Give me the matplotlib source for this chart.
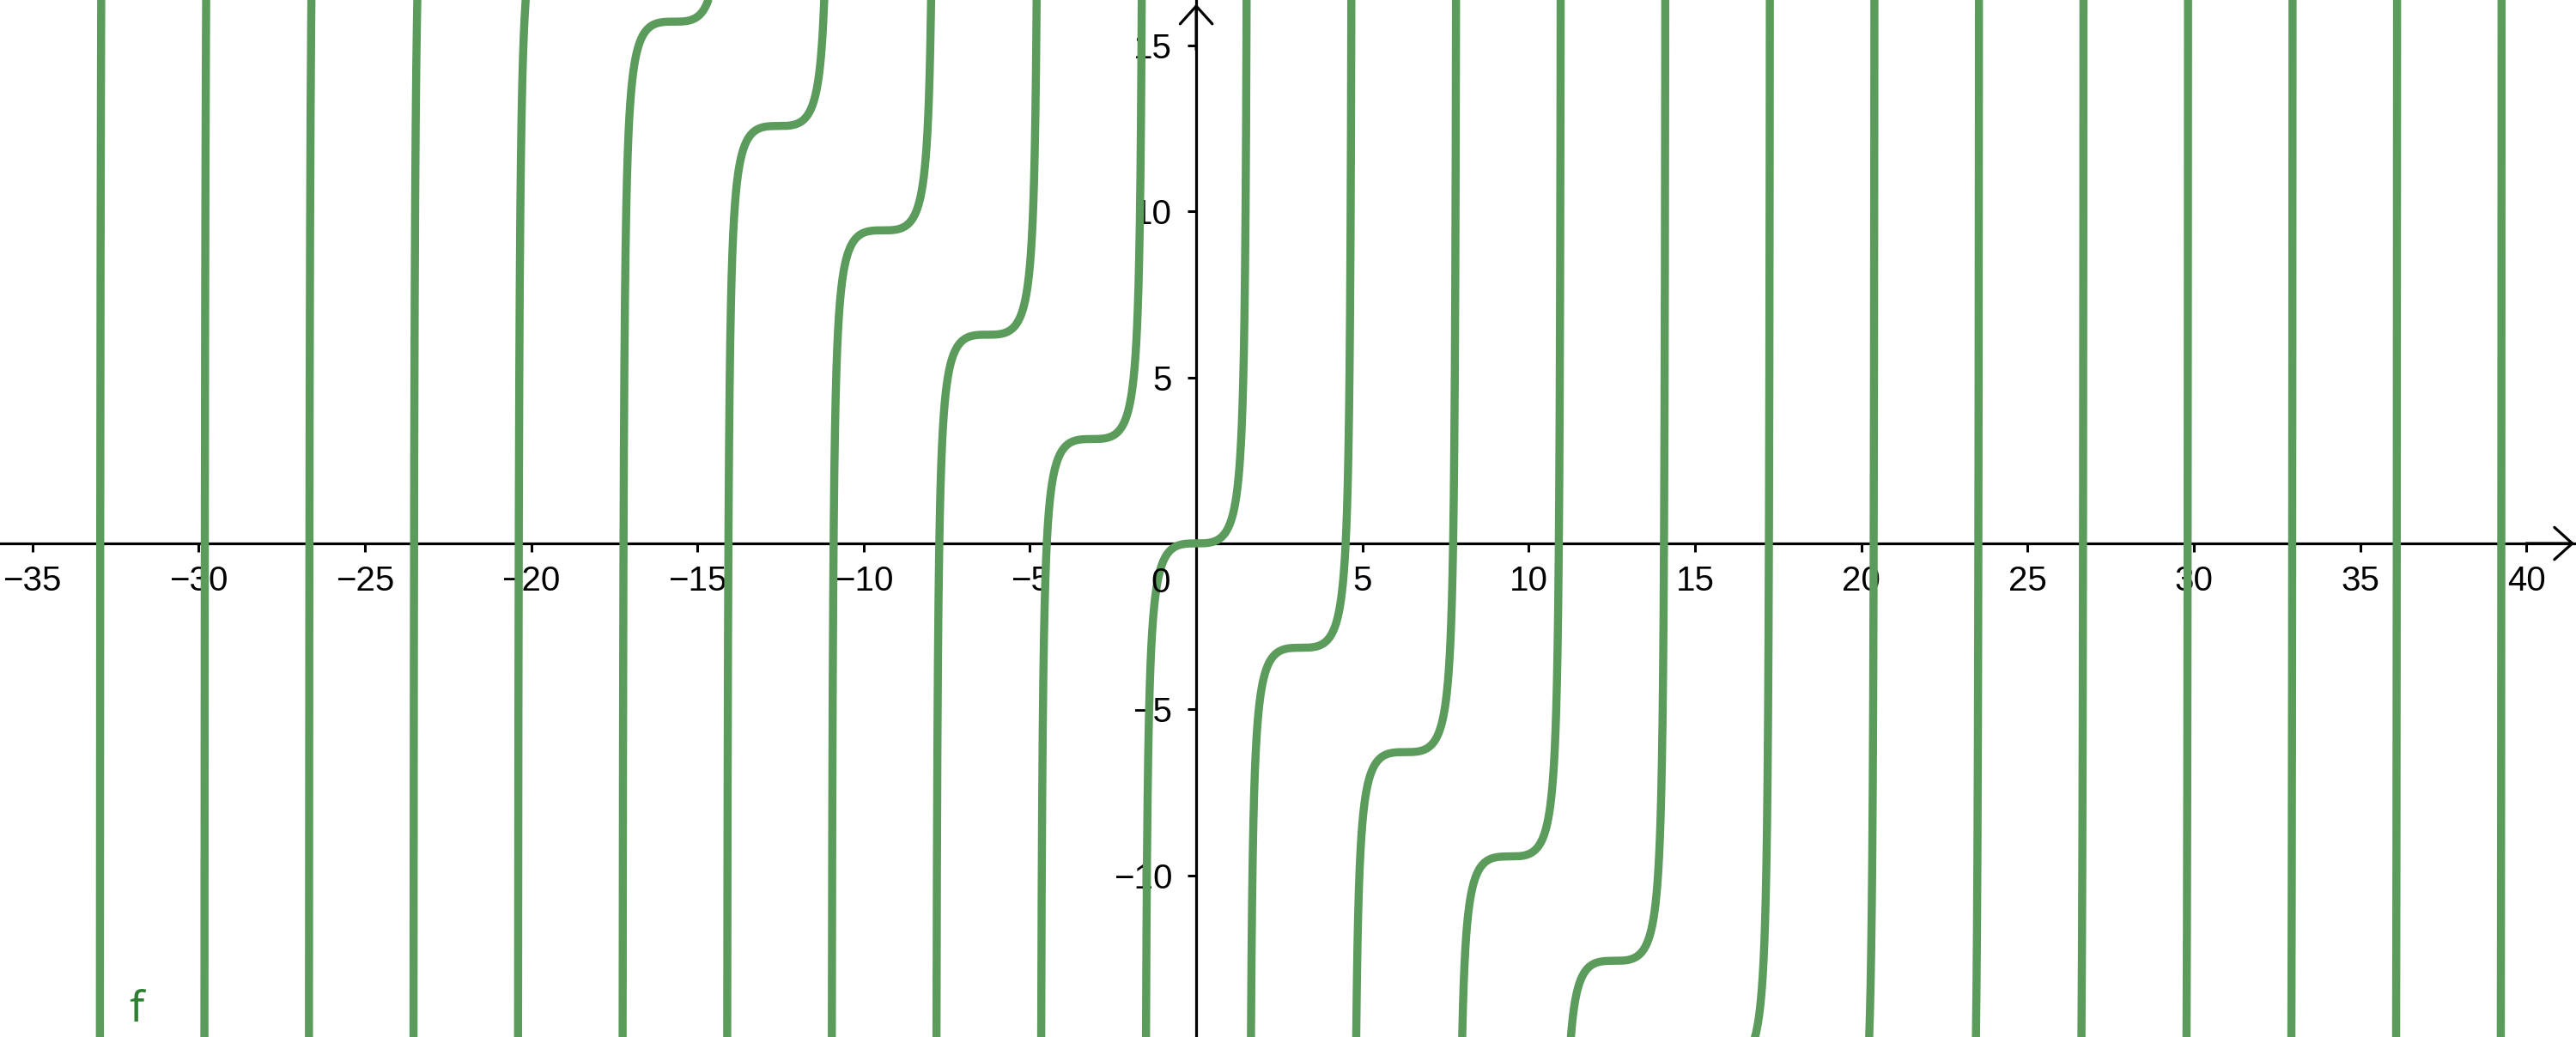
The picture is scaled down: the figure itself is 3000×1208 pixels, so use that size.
import numpy as np
import matplotlib.pyplot as plt

# graph of f(x) = tan(x) - x, as drawn in the GeoGebra view
func_name = "f"
branches = list(range(-13, 15))      # branch k lives between (k-1/2)pi and (k+1/2)pi
x_ticks = [-35, -30, -25, -20, -15, -10, -5, 5, 10, 15, 20, 25, 30, 35, 40]
y_ticks = [-10, -5, 5, 10, 15]
x_view = (-35.97, 41.49)
y_view = (-14.86, 16.36)
label_pos = (-32.1, -14.4)

curve_color = '#5b9b5b'
label_color = '#2f7f32'


def f(x):
    return np.tan(x) - x


fig = plt.figure(figsize=(30, 12.08), dpi=100)
ax = fig.add_axes([0, 0, 1, 1])
ax.set_xlim(*x_view)
ax.set_ylim(*y_view)

# one piece per branch so the asymptotes are not joined
for k in branches:
    t = np.linspace(-0.5, 0.5, 40001)[1:-1]
    xs = (k + t) * np.pi
    ys = f(xs)
    ys = np.where(np.abs(ys) > 200, np.nan, ys)
    ax.plot(xs, ys, color=curve_color, lw=6.8, solid_capstyle='butt', zorder=3)

# axes through the origin
for side in ['top', 'right']:
    ax.spines[side].set_visible(False)
ax.spines['left'].set_position('zero')
ax.spines['bottom'].set_position('zero')
for side in ['left', 'bottom']:
    ax.spines[side].set_linewidth(2.3)
    ax.spines[side].set_zorder(2)

ax.set_xticks(x_ticks)
ax.set_yticks(y_ticks)
ax.tick_params(axis='both', direction='out', length=7.2, width=2.2, labelsize=29)
ax.tick_params(axis='x', pad=11)
ax.tick_params(axis='y', pad=13)
for lab in ax.get_xticklabels() + ax.get_yticklabels():
    lab.set_family('Liberation Sans')

ax.annotate('0', xy=(0, 0), xytext=(-30, -27), textcoords='offset pixels',
            ha='right', va='top', fontsize=29, family='Liberation Sans')

# open arrow heads at the ends of the axes
arrow = dict(arrowstyle='->,head_length=0.5,head_width=0.45', lw=2.3,
             color='black', mutation_scale=30, shrinkA=0, shrinkB=0)
ax.annotate('', xy=(x_view[1] - 0.05, 0), xytext=(x_view[1] - 1.5, 0), arrowprops=arrow)
ax.annotate('', xy=(0, y_view[1] - 0.12), xytext=(0, y_view[1] - 1.5), arrowprops=arrow)

ax.text(label_pos[0], label_pos[1], func_name, color=label_color, fontsize=36,
        family='Noto Sans', va='baseline')

fig.savefig('out.png', dpi=100)
